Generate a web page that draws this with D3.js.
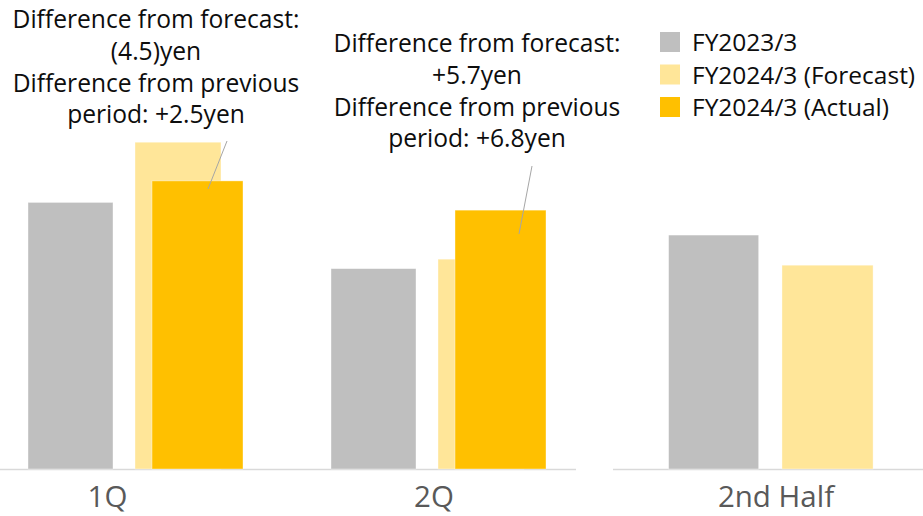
<!DOCTYPE html>
<html>
<head>
<meta charset="utf-8">
<script src="https://cdn.jsdelivr.net/npm/d3@7"></script>
<style>
    body { margin: 0; background: #fff; }
    svg { display: block; font-family: "Open Sans", "Noto Sans", sans-serif; }
</style>
</head>
<body>
<div id="chart"></div>
<script>
// values in yen
const categories = ['1Q', '2Q', '2nd Half'];
const fy2023 = [31.0, 23.3, 27.2];
const forecast2024 = [38.0, 24.4, 23.7];
const actual2024 = [33.5, 30.1, null];

const seriesNames = ['FY2023/3', 'FY2024/3 (Forecast)', 'FY2024/3 (Actual)'];
const seriesColors = ['#BFBFBF', '#FFE699', '#FFC000'];

const notes = [
    { cat: '1Q', lines: ['Difference from forecast:', '(4.5)yen', 'Difference from previous', 'period: +2.5yen'] },
    { cat: '2Q', lines: ['Difference from forecast:', '+5.7yen', 'Difference from previous', 'period: +6.8yen'] }
];

const width = 923, height = 516;
const svg = d3.select('#chart').append('svg')
    .attr('width', width)
    .attr('height', height);

const y = d3.scaleLinear().domain([0, 50]).range([469, 39]);

// two panels: 1Q/2Q side, 2nd Half side
const panels = [
    { cats: ['1Q', '2Q'], range: [-16, 590], axis: [0, 576] },
    { cats: ['2nd Half'], range: [622, 943], axis: [613, 923] }
];

// bar slots inside a 303px band
const slot = [
    { off: 44, w: 85 },
    { off: 151, w: 86 },
    { off: 168, w: 91 }
];

const seriesValues = [fy2023, forecast2024, actual2024];

panels.forEach(p => {
    const x = d3.scaleBand().domain(p.cats).range(p.range).padding(0);
    const u = x.bandwidth() / 303;

    svg.append('line')
        .attr('x1', p.axis[0]).attr('x2', p.axis[1])
        .attr('y1', 469.5).attr('y2', 469.5)
        .attr('stroke', '#D9D9D9')
        .attr('stroke-width', 1.5);

    p.cats.forEach(c => {
        const i = categories.indexOf(c);
        seriesValues.forEach((vals, s) => {
            const v = vals[i];
            if (v == null) return;
            svg.append('rect')
                .attr('x', x(c) + slot[s].off * u)
                .attr('y', y(v))
                .attr('width', slot[s].w * u)
                .attr('height', y(0) - y(v))
                .attr('fill', seriesColors[s])
                .attr('stroke', 'rgba(255,255,255,0.5)')
                .attr('stroke-width', 0.75);
        });
    });
});

// category labels (sit left of the bar groups, as in the source)
const labelX = { '1Q': 107.5, '2Q': 434, '2nd Half': 776 };
svg.selectAll('text.cat')
    .data(categories)
    .enter().append('text')
    .attr('class', 'cat')
    .attr('x', d => labelX[d])
    .attr('y', 507)
    .attr('text-anchor', 'middle')
    .attr('fill', '#595959')
    .attr('font-size', 29.5)
    .text(d => d);

// annotations with leader lines
const noteLayout = {
    '1Q': { cx: 156, y0: 28, from: [227, 141], to: [208, 189] },
    '2Q': { cx: 477, y0: 52, from: [532, 166], to: [519, 234] }
};
notes.forEach(n => {
    const L = noteLayout[n.cat];
    const t = svg.append('text')
        .attr('text-anchor', 'middle')
        .attr('fill', '#0D0D0D')
        .attr('font-size', 24.6);
    n.lines.forEach((ln, k) => {
        t.append('tspan')
            .attr('x', L.cx)
            .attr('y', L.y0 + k * 31.8)
            .text(ln);
    });
    svg.append('line')
        .attr('x1', L.from[0]).attr('y1', L.from[1])
        .attr('x2', L.to[0]).attr('y2', L.to[1])
        .attr('stroke', '#A6A6A6')
        .attr('stroke-width', 1);
});

// legend
const legend = svg.append('g').attr('transform', 'translate(660,32)');
seriesNames.forEach((name, i) => {
    const g = legend.append('g').attr('transform', `translate(0,${i * 32.5})`);
    g.append('rect')
        .attr('width', 20).attr('height', 20)
        .attr('fill', seriesColors[i]);
    g.append('text')
        .attr('x', 32)
        .attr('y', 19)
        .attr('fill', '#0D0D0D')
        .attr('font-size', 24.5)
        .text(name);
});
</script>
</body>
</html>
